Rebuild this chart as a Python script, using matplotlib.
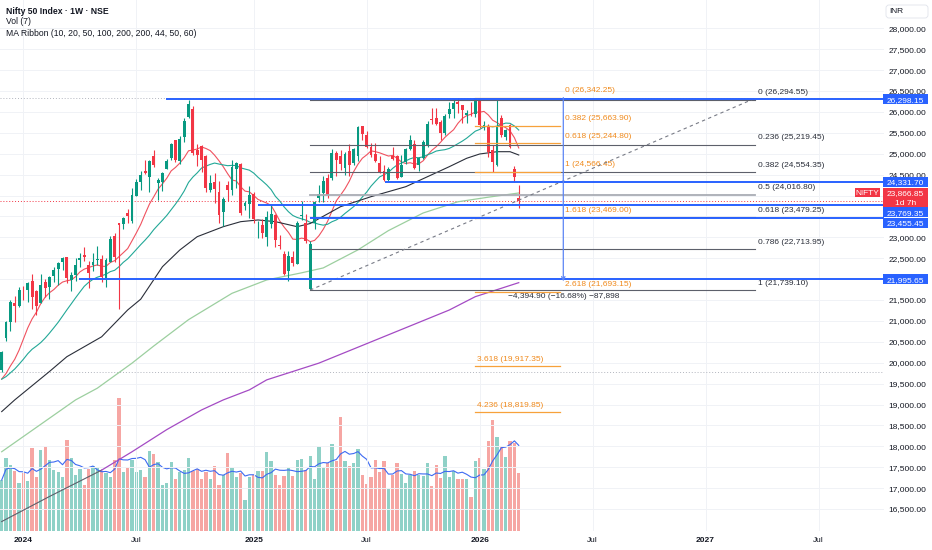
import matplotlib
matplotlib.use("Agg")
import matplotlib.pyplot as plt
import matplotlib.dates as mdates
import matplotlib.transforms as mtrans
from matplotlib.patches import FancyBboxPatch, Rectangle
import numpy as np
import pandas as pd

plt.rcParams['font.family'] = ['Liberation Sans', 'DejaVu Sans']

# --- Nifty 50 weekly candles, one per Monday from 2023-11-27
dates = pd.date_range('2023-11-27', periods=120, freq='W-MON')

opens = [
    19828, 20601, 20965, 21434, 21365, 21727, 21747, 21960, 21716, 21433,
    21921, 21800, 22080, 22230, 22400, 22517, 21990, 22090, 22456, 22578,
    22339, 22336, 22456, 22489, 22027, 22404, 23038, 23337, 23320, 23573,
    23382, 23992, 24329, 24587, 24446, 24943, 24302, 24320, 24636, 24906,
    25333, 24823, 25406, 25872, 26061, 25085, 25186, 24956, 24140, 24315,
    24087, 23605, 24254, 24140, 24633, 24753, 23738, 23796, 24045, 23195,
    23290, 23012, 23319, 23544, 22809, 22609, 22194, 22521, 22353, 23515,
    23341, 21758, 23341, 23949, 24070, 24419, 24420, 25005, 24956, 24669,
    25061, 24788, 24939, 25661, 25450, 25149, 25000, 24782, 24596, 24372,
    24938, 24949, 24432, 24802, 25118, 25239, 24728, 24899, 25177, 25824,
    25843, 25762, 25503, 25948, 26065, 26240, 26160, 25920, 26055, 25940,
    26330, 25640, 25646, 25089, 24730, 25847, 25408, 25687, 24627, 23950,
]
highs = [
    20292, 21006, 21493, 21593, 21802, 21834, 21928, 22124, 21750, 22127,
    22011, 22069, 22297, 22420, 22526, 22526, 22180, 22516, 22620, 22776,
    22427, 22626, 22794, 22588, 22502, 23026, 23110, 23339, 23490, 23667,
    24174, 24401, 24592, 24854, 24861, 25078, 24419, 24563, 24867, 25268,
    25333, 25433, 25849, 26277, 26134, 25234, 25212, 24978, 24498, 24537,
    24336, 23956, 24354, 24857, 24792, 24781, 23869, 24226, 24089, 23391,
    23426, 23633, 23807, 23568, 23049, 22668, 22677, 22676, 23402, 23870,
    23565, 22923, 23872, 24242, 24457, 24526, 25117, 25062, 25080, 25030,
    25223, 25137, 25654, 25669, 25548, 25255, 25246, 24957, 24734, 24674,
    25154, 24974, 24980, 25139, 25448, 25331, 24920, 25330, 25781, 26104,
    26097, 25803, 25940, 26246, 26310, 26326, 26170, 26050, 26236, 26330,
    26342.25, 25780, 25700, 25200, 26285, 25930, 25600, 25700, 24700, 24252,
]
lows = [
    19768, 20508, 20770, 20977, 21329, 21500, 21448, 21285, 21137, 21429,
    21575, 21530, 21940, 21860, 22224, 21905, 21710, 21950, 22300, 22430,
    21777, 22200, 22348, 21932, 21821, 22403, 22417, 21281, 23206, 23350,
    23350, 23992, 24141, 24508, 24074, 24686, 23893, 24100, 24630, 24858,
    24801, 24753, 25286, 25848, 24966, 24694, 24567, 24073, 24074, 23816,
    23350, 23263, 23873, 24008, 24180, 23537, 23647, 23460, 23344, 22987,
    22981, 22786, 23222, 22774, 22725, 22105, 21965, 22314, 22353, 23413,
    22857, 21744, 23207, 23847, 23848, 23936, 24378, 24462, 24614, 24502,
    24473, 24737, 24825, 25330, 25129, 24918, 24806, 24535, 24337, 24345,
    24852, 24404, 24432, 24760, 25077, 24629, 24588, 24880, 25152, 25718,
    25691, 25318, 25449, 25852, 25843, 25985, 25728, 25726, 25900, 25880,
    25620, 25560, 24929, 24566.45, 24700, 25408, 25330, 25130, 24331.7, 23694,
]
closes = [
    20268, 20969, 21457, 21349, 21731, 21711, 21895, 21572, 21353, 21854,
    21783, 22041, 22213, 22378, 22493, 22023, 22097, 22327, 22514, 22519,
    22147, 22420, 22476, 22055, 22466, 22957, 22531, 23290, 23465, 23501,
    24010, 24323, 24502, 24530, 24834, 24718, 24367, 24541, 24823, 25236,
    24852, 25357, 25791, 26179, 25015, 24964, 24854, 24181, 24304, 24148,
    23533, 23907, 24131, 24678, 24768, 23588, 23813, 24005, 23432, 23203,
    23092, 23482, 23560, 22929, 22796, 22125, 22553, 22397, 23350, 23519,
    22904, 22829, 23852, 24039, 24347, 24008, 25020, 24853, 24751, 25003,
    24719, 25112, 25638, 25461, 25150, 24968, 24837, 24565, 24363, 24631,
    24870, 24427, 24741, 25114, 25327, 24655, 24894, 25285, 25710, 25795,
    25722, 25492, 25910, 26068, 26203, 26186, 26047, 25966, 26042, 26325,
    25687, 25690, 25048, 24809, 25650, 25448, 25567, 25168, 24436, 23866.85,
]
# relative weekly volume (bar heights)
volume = [
    153, 218, 197, 180, 143, 174, 149, 249, 161, 243,
    251, 214, 182, 178, 163, 273, 220, 167, 187, 137,
    185, 195, 193, 181, 173, 161, 212, 398, 176, 190,
    212, 177, 182, 163, 239, 232, 207, 137, 145, 207,
    155, 177, 182, 218, 181, 185, 155, 178, 155, 195,
    137, 167, 234, 189, 161, 175, 92, 163, 167, 179,
    179, 236, 209, 167, 139, 164, 189, 164, 214, 217,
    182, 224, 157, 253, 191, 205, 261, 210, 342, 209,
    195, 205, 245, 167, 142, 163, 212, 177, 209, 125,
    169, 205, 171, 143, 169, 179, 167, 164, 205, 135,
    199, 159, 224, 162, 181, 155, 155, 155, 101, 209,
    219, 185, 269, 334, 282, 252, 221, 271, 264, 174,
]
# weekly closes before the first bar (Jul-Nov 2023), for the short averages
pre_closes = [19745, 19646, 19517, 19428, 19310, 19265, 19435, 19820, 20192, 19674,
              19638, 19654, 19751, 19543, 19047, 19231, 19425, 19732, 19795]

# long averages (bar number, value)
ma50_bar = [1, 4, 12, 16, 24, 30, 33, 38, 42, 46, 52, 56, 60, 64, 69, 72, 79, 86, 94, 99, 104, 108, 111, 115, 118, 120]
ma50_val = [18830, 19110, 19790, 20144, 20620, 21262, 21520, 22297, 22697, 23015, 23254, 23374, 23415, 23374, 23254,
            23330, 23733, 23972, 24211, 24450, 24689, 24890, 24993, 25048, 25048, 24969]
ma100_bar = [1, 18, 23, 31, 36, 44, 54, 62, 70, 75, 83, 90, 98, 106, 113, 120]
ma100_val = [17870, 19110, 19390, 19990, 20400, 21030, 21660, 21980, 22150, 22267, 22700, 23160, 23582, 23850, 23960, 24060]
ma200_bar = [1, 12, 24, 31, 39, 47, 52, 58, 62, 74, 104, 110, 120]
ma200_val = [16200, 16800, 17430, 17870, 18400, 18870, 19110, 19350, 19590, 19990, 21260, 21580, 21915]

# drawings
fib1_ratio = ['0', '0.236', '0.382', '0.5', '0.618', '0.786', '1']
fib1_level = [26294.55, 25219.45, 24554.35, 24016.80, 23479.25, 22713.95, 21739.10]
fib2_ratio = ['0', '0.382', '0.618', '1', '1.618', '2.618', '3.618', '4.236']
fib2_level = [26342.25, 25663.90, 25244.80, 24566.45, 23469.00, 21693.15, 19917.35, 18819.85]
hlines = [26298.15, 24331.70, 23769.35, 23455.45, 21995.65]
hline_start_wk = [37.8, 88.2, 59.0, 71.0, 17.8]
range_top, range_change, range_pct, range_bars = 26342.25, -4394.90, -16.68, -87898

TEAL, RED, BLUE = '#089981', '#f23645', '#2962ff'
W, H = 932, 550
AXW = 884          # plot width in pixels
PX = 23.92         # price units per pixel

o, h, l, c = map(np.array, (opens, highs, lows, closes))
x = mdates.date2num(dates.to_pydatetime())
x0 = x[0]
def wk(w):
    return x0 + 7 * w

full = pd.Series(pre_closes + closes)
ma10 = full.rolling(10).mean().values[-120:]
ma20 = full.rolling(20).mean().values[-120:]
vol_ma = pd.Series(volume).rolling(7, min_periods=1).mean()

fig = plt.figure(figsize=(W / 100, H / 100), dpi=100)
rect = [0, 19 / H, AXW / W, 531 / H]
axv = fig.add_axes(rect)
ax = fig.add_axes(rect)
ax.patch.set_visible(False)

xlim = (wk(-0.39), wk(203.06))
ylim = (15974, 28677)

# volume pane
up = c >= o
vcol = np.where(up, '#8fd1c7', '#f6a6a3')
axv.bar(x, volume, width=5.3, color=vcol, lw=0)
axv.plot(x, vol_ma, color='#3d6af2', lw=0.8)
axv.set_xlim(xlim)
axv.set_ylim(0, 1593)
axv.axis('off')

# grid
ax.set_axisbelow(True)
ax.grid(True, color='#f0f2f6', lw=0.7)

# moving averages
ax.plot(x, ma10, color='#f0525f', lw=0.8, zorder=3)
ax.plot(x, ma20, color='#22a897', lw=0.8, zorder=3)
ax.plot(x[np.array(ma50_bar) - 1], ma50_val, color='#2a2e39', lw=0.8, zorder=3)
ax.plot(x[np.array(ma100_bar) - 1], ma100_val, color='#9ccf9f', lw=0.9, zorder=3)
mb = np.array(ma200_bar) - 1
ax.plot(x[mb[:3]], ma200_val[:3], color='#5d606b', lw=0.8, zorder=3)
ax.plot(x[mb[2:]], ma200_val[2:], color='#a44bc4', lw=0.9, zorder=3)

# candles
col = np.where(up, TEAL, RED)
ax.vlines(x, l, h, colors=col, lw=0.8, zorder=4)
body = np.maximum(np.abs(c - o), 12)
ax.bar(x, body, bottom=np.minimum(o, c), width=4.6, color=col, lw=0, zorder=5)

# visible range high / low and last price lines
ax.axhline(h.max(), color='#b2b5be', lw=0.7, ls=(0, (1, 2)), zorder=2)
ax.axhline(l.min(), color='#b2b5be', lw=0.7, ls=(0, (1, 2)), zorder=2)
ax.axhline(c[-1], color=RED, lw=0.7, ls=(0, (1, 2)), zorder=2)

# fib retracement (gray)
for r, lv in zip(fib1_ratio, fib1_level):
    lc, lw = ('#a9acb4', 1.3) if r == '0.5' else ('#5d606b', 0.8)
    ax.plot([x[71], wk(173.4)], [lv, lv], color=lc, lw=lw, zorder=6)
    ax.annotate(f'{r} ({lv:,.2f})', (wk(174.1), lv), xytext=(0, 2.5), textcoords='offset points',
                ha='left', va='bottom', fontsize=6, color='#2a2e39')
ax.plot([x[71], wk(172.7)], [fib1_level[-1], fib1_level[0]], color='#787b86', lw=0.8,
        ls=(0, (3, 3)), zorder=6)

# fib extension (orange)
for r, lv in zip(fib2_ratio, fib2_level):
    ax.plot([x[109], wk(128.5)], [lv, lv], color='#f7a13b', lw=0.9, zorder=6)
    lx = wk(129.6) if float(r) < 3 else x[109] + 2
    ax.annotate(f'{r} ({lv:,.2f})', (lx, lv), xytext=(0, 2.5), textcoords='offset points',
                ha='left', va='bottom', fontsize=6, color='#f08a1c')

# blue price lines
for lv, s in zip(hlines, hline_start_wk):
    ax.plot([wk(s), xlim[1]], [lv, lv], color=BLUE, lw=1.4, zorder=7, solid_capstyle='butt')

# price range
xr = wk(129.25)
range_bot = range_top + range_change
ax.annotate('', xy=(xr, range_bot), xytext=(xr, range_top),
            arrowprops=dict(arrowstyle='->', color='#5b84f5', lw=0.9, shrinkA=0, shrinkB=0,
                            mutation_scale=6), zorder=7)
ax.annotate(f'\u2212{-range_change:,.2f} (\u2212{-range_pct:.2f}%) \u2212{-range_bars:,}', (xr, range_bot),
            xytext=(0, -8.5), textcoords='offset points', ha='center', va='top', fontsize=6,
            color='#2a2e39')

# axes
ax.set_xlim(xlim)
ax.set_ylim(ylim)
for s in ax.spines.values():
    s.set_visible(False)
ax.yaxis.tick_right()
yt = np.arange(16500, 28001, 500)
hidden = {22000, 23500}   # sit fully under the price tags
ax.set_yticks(yt)
ax.set_yticklabels(['' if v in hidden else f'{v:,.2f}' for v in yt])
ax.tick_params(axis='y', length=0, pad=3, labelsize=6, labelcolor='#131722')
tick_dates = ['2024-01-01', '2024-07-01', '2025-01-06', '2025-07-07',
              '2026-01-05', '2026-07-06', '2027-01-04', '2027-07-05']
tick_text = ['2024', 'Jul', '2025', 'Jul', '2026', 'Jul', '2027', 'Jul']
ax.set_xticks(mdates.date2num(pd.to_datetime(tick_dates).to_pydatetime()))
ax.set_xticklabels(tick_text)
ax.tick_params(axis='x', length=0, pad=4.5, labelsize=6, labelcolor='#131722')
for t in ax.get_xticklabels():
    if t.get_text() != 'Jul':
        t.set_fontweight('bold')

# right-axis tags (stacked like the price scale)
tr = mtrans.blended_transform_factory(ax.transAxes, ax.transData)

def tag(y_mid, n_px, lines, color, x_left=883, x_right=928, z=10):
    ax.add_patch(Rectangle((x_left / AXW, y_mid - n_px / 2 * PX), (x_right - x_left) / AXW, n_px * PX,
                           transform=tr, fc=color, ec='none', clip_on=False, zorder=z))
    step = n_px / len(lines)
    for k, s in enumerate(lines):
        yy = y_mid + (n_px / 2 - step * (k + 0.5)) * PX
        ax.text((x_left + x_right) / 2 / AXW, yy, s, transform=tr, ha='center', va='center_baseline',
                fontsize=6, color='white', clip_on=False, zorder=z + 0.5)

tag_pos = [26298, 24331, 23598, 23350, 21995]
for lv, yp in zip(hlines, tag_pos):
    tag(yp, 10, [f'{lv:,.2f}'], BLUE)
tag(23941, 20, [f'{c[-1]:,.2f}', '1d 7h'], RED, z=9)
tag(24078, 9, ['NIFTY'], RED, x_left=855, x_right=880)

# currency box at top of the price scale
fig.patches.append(FancyBboxPatch((886, H - 18), 42, 13, boxstyle='round,pad=0,rounding_size=3',
                                  transform=mtrans.IdentityTransform(), fc='white',
                                  ec='#e0e3eb', lw=0.6))
fig.text(896 / W, 1 - 11.5 / H, 'INR', ha='center', va='center', fontsize=6, color='#131722')

# legend lines
fig.text(6 / W, 1 - 11 / H, 'Nifty 50 Index \u00b7 1W \u00b7 NSE', fontsize=6.2, fontweight='bold',
         color='#131722', va='center')
fig.text(6 / W, 1 - 22 / H, 'Vol (7)', fontsize=6.2, color='#131722', va='center')
fig.text(6 / W, 1 - 33 / H, 'MA Ribbon (10, 20, 50, 100, 200, 200, 44, 50, 60)', fontsize=6.2,
         color='#131722', va='center')

fig.savefig('out.png', dpi=100)
